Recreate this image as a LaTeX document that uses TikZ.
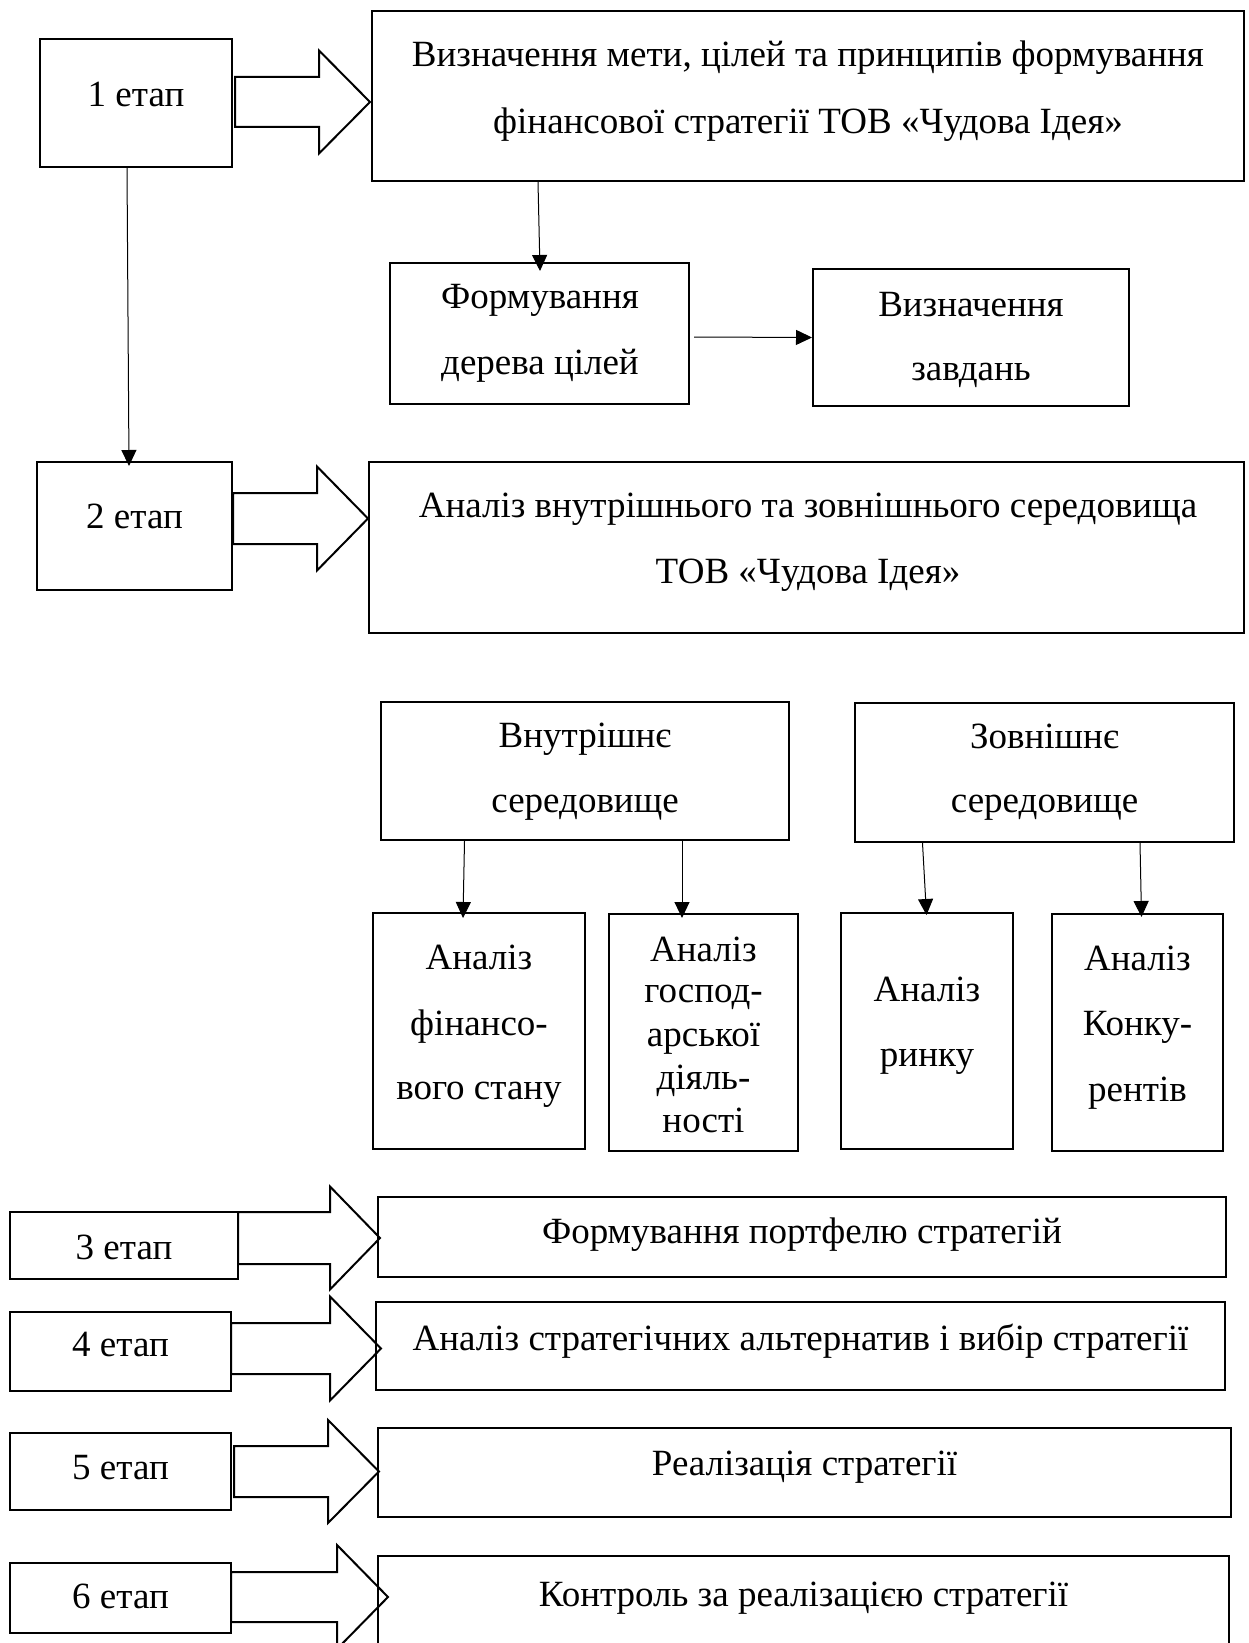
\documentclass[tikz,border=0pt]{standalone}
\usepackage{fontspec}
\setmainfont{Liberation Serif}
\usetikzlibrary{arrows.meta,calc}
\tikzset{
  box/.style={draw, line width=2pt, rectangle, inner sep=0pt},
  txt/.style={anchor=base, inner sep=0pt, font=\fontsize{37}{44}\selectfont},
  conn/.style={draw, line width=1pt, -{Triangle[length=16pt,width=15pt]}},
  blk/.style={draw, line width=2pt, line join=miter}
}
\newcommand\blkarrow[6]{\draw[blk] (#1,{#4-#5}) -- (#2,{#4-#5}) -- (#2,{#4-#6}) -- (#3,#4) -- (#2,{#4+#6}) -- (#2,{#4+#5}) -- (#1,{#4+#5}) -- cycle;}
\begin{document}
\begin{tikzpicture}[x=1pt,y=-1pt]
\useasboundingbox (0,0) rectangle (1248,1643);
% boxes
\node[box, minimum width=192pt, minimum height=128pt] (e1) at (136,103) {};
\node[box, minimum width=872pt, minimum height=170pt] (m1) at (808,96) {};
\node[box, minimum width=299pt, minimum height=141pt] (form) at (539.5,333.5) {};
\node[box, minimum width=316pt, minimum height=137pt] (vyzn) at (971,337.5) {};
\node[box, minimum width=195pt, minimum height=128pt] (e2) at (134.5,526) {};
\node[box, minimum width=875pt, minimum height=171pt] (m2) at (806.5,547.5) {};
\node[box, minimum width=408pt, minimum height=138pt] (vnut) at (585,771) {};
\node[box, minimum width=379pt, minimum height=139pt] (zovn) at (1044.5,772.5) {};
\node[box, minimum width=212pt, minimum height=236pt] (fin) at (479,1031) {};
\node[box, minimum width=189pt, minimum height=237pt] (gosp) at (703.5,1032.5) {};
\node[box, minimum width=172pt, minimum height=236pt] (rynok) at (927,1031) {};
\node[box, minimum width=171pt, minimum height=237pt] (konk) at (1137.5,1032.5) {};
\node[box, minimum width=228pt, minimum height=67pt] (e3) at (124,1245.5) {};
\node[box, minimum width=848pt, minimum height=80pt] (m3) at (802,1237) {};
\node[box, minimum width=221pt, minimum height=79pt] (e4) at (120.5,1351.5) {};
\node[box, minimum width=849pt, minimum height=88pt] (m4) at (800.5,1346) {};
\node[box, minimum width=221pt, minimum height=77pt] (e5) at (120.5,1471.5) {};
\node[box, minimum width=853pt, minimum height=89pt] (m5) at (804.5,1472.5) {};
\node[box, minimum width=221pt, minimum height=70pt] (e6) at (120.5,1598) {};
\node[box, minimum width=851pt, minimum height=164pt] (m6) at (803.5,1638) {};
% texts
\node[txt] (t1) at (136,107) {1 етап};
\node[txt] (t1a) at (808,67) {Визначення мети, цілей та принципів формування};
\node[txt] (t1b) at (808,134) {фінансової стратегії ТОВ «Чудова Ідея»};
\node[txt] (tfa) at (540,308) {Формування};
\node[txt] (tfb) at (540,374) {дерева цілей};
\node[txt] (tva) at (971,316) {Визначення};
\node[txt] (tvb) at (971,380) {завдань};
\node[txt] (t2) at (134.5,528) {2 етап};
\node[txt] (t2a) at (808,517) {Аналіз внутрішнього та зовнішнього середовища};
\node[txt] (t2b) at (808,583) {ТОВ «Чудова Ідея»};
\node[txt] (tna) at (585,747) {Внутрішнє};
\node[txt] (tnb) at (585,812) {середовище};
\node[txt] (tza) at (1044.5,748) {Зовнішнє};
\node[txt] (tzb) at (1044.5,812) {середовище};
\node[txt] (tfi1) at (479,969) {Аналіз};
\node[txt] (tfi2) at (479,1035) {фінансо-};
\node[txt] (tfi3) at (479,1099) {вого стану};
\node[txt] (tg1) at (703.5,961) {Аналіз};
\node[txt] (tg2) at (703.5,1002) {господ-};
\node[txt] (tg3) at (703.5,1046) {арської};
\node[txt] (tg4) at (703.5,1089) {діяль-};
\node[txt] (tg5) at (703.5,1132) {ності};
\node[txt] (tr1) at (927,1001) {Аналіз};
\node[txt] (tr2) at (927,1066) {ринку};
\node[txt] (tk1) at (1137.5,970) {Аналіз};
\node[txt] (tk2) at (1137.5,1035) {Конку-};
\node[txt] (tk3) at (1137.5,1101) {рентів};
\node[txt] (t3) at (124,1259) {3 етап};
\node[txt] (t3a) at (802,1243) {Формування портфелю стратегій};
\node[txt] (t4) at (120.5,1356) {4 етап};
\node[txt] (t4a) at (800.5,1350) {Аналіз стратегічних альтернатив і вибір стратегії};
\node[txt] (t5) at (120.5,1479) {5 етап};
\node[txt] (t5a) at (804.5,1475) {Реалізація стратегії};
\node[txt] (t6) at (120.5,1608) {6 етап};
\node[txt] (t6a) at (803.5,1606) {Контроль за реалізацією стратегії};
% thin connectors
\draw[conn] ([xshift=-9pt]e1.south) -- ([xshift=-5.5pt,yshift=-5pt]e2.north);
\draw[conn] ([xshift=-270pt]m1.south) -- ([xshift=0.5pt,yshift=-9pt]form.north);
\draw[conn] ([xshift=4pt,yshift=-3.5pt]form.east) -- (vyzn.west);
\draw[conn] ([xshift=-120.5pt]vnut.south) -- ([xshift=-16pt,yshift=-6pt]fin.north);
\draw[conn] ([xshift=97pt]vnut.south) -- ([xshift=-21.5pt,yshift=-5pt]gosp.north);
\draw[conn] ([xshift=-122pt]zovn.south) -- ([xshift=-0.5pt,yshift=-3pt]rynok.north);
\draw[conn] ([xshift=95.5pt]zovn.south) -- ([xshift=4pt,yshift=-4pt]konk.north);
% block arrows
\blkarrow{235}{319}{370}{102}{25}{51.5}
\blkarrow{233}{317}{368}{518.5}{25.5}{52}
\blkarrow{238}{330}{380}{1238}{26}{51.5}
\blkarrow{231}{330}{381}{1348.5}{25.5}{52}
\blkarrow{234}{328}{379}{1471.5}{25.5}{51.5}
\blkarrow{231}{337}{388}{1597}{25}{52}
\end{tikzpicture}
\end{document}
